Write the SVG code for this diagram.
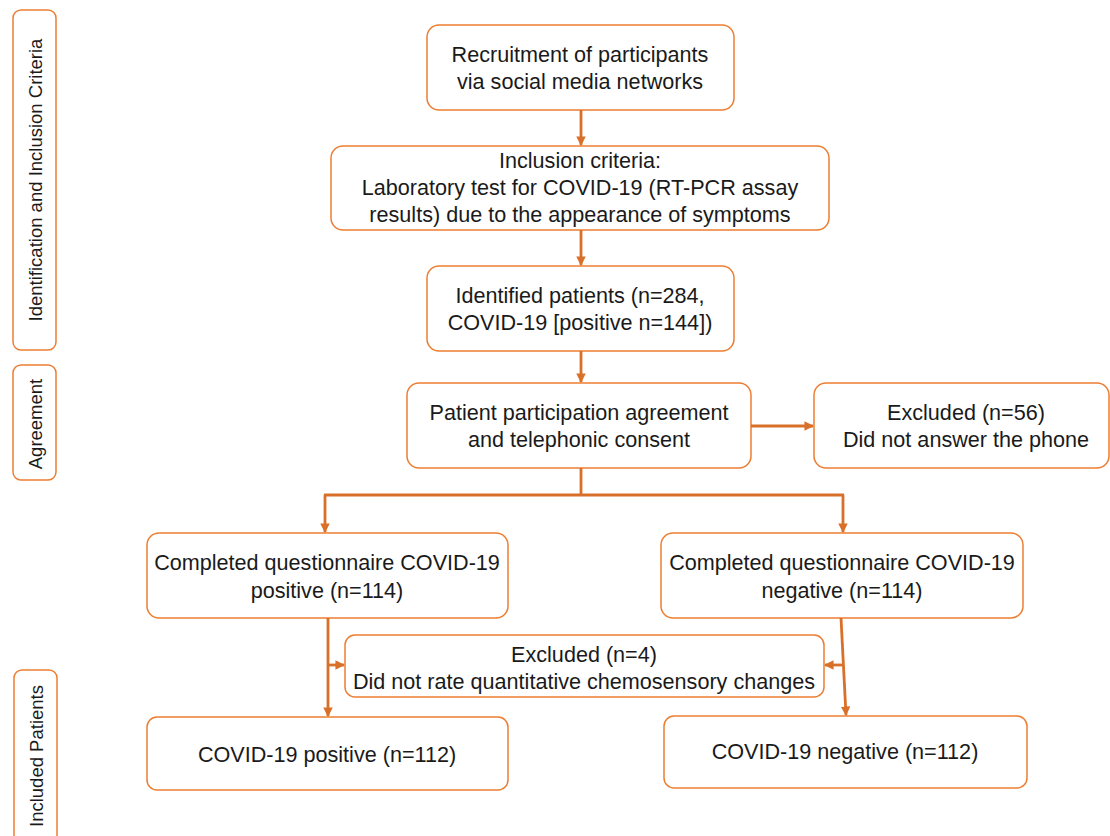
<svg xmlns="http://www.w3.org/2000/svg" width="1110" height="836" viewBox="0 0 1110 836">
<style>
.box{fill:#fff;stroke:#ED7D31;stroke-width:1.5}
.t{font-family:"Liberation Sans",Arial,sans-serif;font-size:21.6px;fill:#1a1a1a;text-anchor:middle}
.s{font-family:"Liberation Sans",Arial,sans-serif;font-size:18.5px;fill:#1a1a1a;text-anchor:middle}
.c{fill:none;stroke:#D9702A;stroke-width:2.8}
</style>
<defs>
<marker id="ah" viewBox="0 0 10 10" refX="9" refY="5" markerWidth="3.4" markerHeight="3.4" orient="auto" markerUnits="strokeWidth">
<path d="M0,0 L10,5 L0,10 z" fill="#D9702A"/>
</marker>
</defs>
<rect width="1110" height="836" fill="#fff"/>
<g id="side-identification"><rect class="box" x="13" y="10" width="43" height="340" rx="8"/><text class="s" transform="translate(42,180) rotate(-90)">Identification and Inclusion Criteria</text></g>
<g id="side-agreement"><rect class="box" x="13" y="365" width="43" height="115" rx="8"/><text class="s" transform="translate(42,424) rotate(-90)">Agreement</text></g>
<g id="side-included"><rect class="box" x="14" y="670" width="43" height="180" rx="8"/><text class="s" transform="translate(43,756) rotate(-90)">Included Patients</text></g>

<g id="n-recruit"><rect class="box" x="427" y="25" width="307" height="85" rx="12"/><text class="t" x="580" y="62">Recruitment of participants</text><text class="t" x="580" y="89">via social media networks</text></g>
<g id="n-inclusion"><rect class="box" x="331" y="146" width="498" height="84" rx="12"/><text class="t" x="580" y="168">Inclusion criteria:</text><text class="t" x="580" y="195">Laboratory test for COVID-19 (RT-PCR assay</text><text class="t" x="580" y="222">results) due to the appearance of symptoms</text></g>
<g id="n-identified"><rect class="box" x="427" y="266" width="307" height="85" rx="12"/><text class="t" x="580" y="303">Identified patients (n=284,</text><text class="t" x="580" y="330">COVID-19 [positive n=144])</text></g>
<g id="n-agreement"><rect class="box" x="407" y="383" width="344" height="85" rx="12"/><text class="t" x="579" y="420">Patient participation agreement</text><text class="t" x="579" y="447">and telephonic consent</text></g>
<g id="n-excluded56"><rect class="box" x="814" y="383" width="295" height="85" rx="12"/><text class="t" x="966" y="420">Excluded (n=56)</text><text class="t" x="966" y="447">Did not answer the phone</text></g>
<g id="n-comp-pos"><rect class="box" x="147" y="533" width="361" height="85" rx="12"/><text class="t" x="327" y="570">Completed questionnaire COVID-19</text><text class="t" x="327" y="598">positive (n=114)</text></g>
<g id="n-comp-neg"><rect class="box" x="661" y="533" width="362" height="85" rx="12"/><text class="t" x="842" y="570">Completed questionnaire COVID-19</text><text class="t" x="842" y="598">negative (n=114)</text></g>
<g id="n-excluded4"><rect class="box" x="345" y="635" width="479" height="62" rx="10"/><text class="t" x="584" y="662">Excluded (n=4)</text><text class="t" x="584" y="689">Did not rate quantitative chemosensory changes</text></g>
<g id="n-pos"><rect class="box" x="147" y="717" width="361" height="73" rx="10"/><text class="t" x="327" y="762">COVID-19 positive (n=112)</text></g>
<g id="n-neg"><rect class="box" x="664" y="716" width="363" height="72" rx="10"/><text class="t" x="845" y="759">COVID-19 negative (n=112)</text></g>

<g id="connectors">
<line class="c" x1="581" y1="110" x2="581" y2="145" marker-end="url(#ah)"/>
<line class="c" x1="581" y1="230" x2="581" y2="265" marker-end="url(#ah)"/>
<line class="c" x1="581" y1="351" x2="581" y2="382" marker-end="url(#ah)"/>
<line class="c" x1="751" y1="426" x2="813" y2="426" marker-end="url(#ah)"/>
<polyline class="c" points="581,468 581,495"/>
<line class="c" x1="324" y1="495" x2="844" y2="495"/>
<line class="c" x1="325" y1="495" x2="325" y2="532" marker-end="url(#ah)"/>
<line class="c" x1="843" y1="495" x2="843" y2="532" marker-end="url(#ah)"/>
<line class="c" x1="328" y1="618" x2="328" y2="716" marker-end="url(#ah)"/>
<line class="c" x1="328" y1="665" x2="344" y2="665" marker-end="url(#ah)"/>
<line class="c" x1="841" y1="618" x2="846" y2="715" marker-end="url(#ah)"/>
<line class="c" x1="842" y1="665" x2="825" y2="665" marker-end="url(#ah)"/>
</g>
</svg>
